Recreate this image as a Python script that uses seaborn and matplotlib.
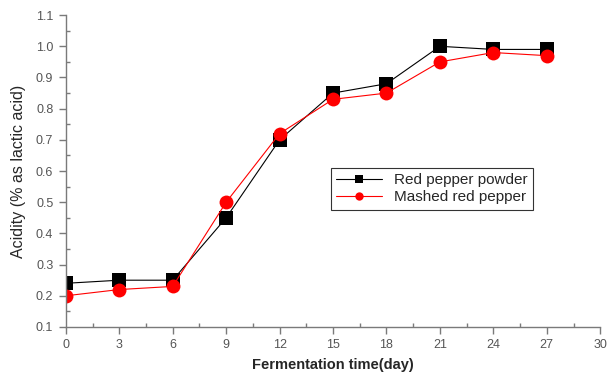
import pandas as pd
import seaborn as sns
import matplotlib.pyplot as plt
from matplotlib.ticker import MultipleLocator, FormatStrFormatter

# Data
days = [0, 3, 6, 9, 12, 15, 18, 21, 24, 27]
powder = [0.24, 0.25, 0.25, 0.45, 0.70, 0.85, 0.88, 1.00, 0.99, 0.99]
mashed = [0.20, 0.22, 0.23, 0.50, 0.72, 0.83, 0.85, 0.95, 0.98, 0.97]
series_names = ['Red pepper powder', 'Mashed red pepper']

df = pd.DataFrame({
    'day': days * 2,
    'acidity': powder + mashed,
    'sample': [series_names[0]] * len(days) + [series_names[1]] * len(days),
})

sns.set_style('white')
plt.rcParams['font.family'] = ['Liberation Sans', 'DejaVu Sans']

fig = plt.figure(figsize=(6.15, 3.78), dpi=100)
ax = fig.add_axes([0.107, 0.135, 0.869, 0.825])

sns.lineplot(data=df, x='day', y='acidity', hue='sample', style='sample',
             palette={series_names[0]: 'black', series_names[1]: '#ff0000'},
             markers={series_names[0]: 's', series_names[1]: 'o'},
             dashes=False, markersize=10, markeredgewidth=0, linewidth=0.8,
             ax=ax)

ax.set_xlim(0, 30)
ax.set_ylim(0.1, 1.1)
ax.xaxis.set_major_locator(MultipleLocator(3))
ax.xaxis.set_minor_locator(MultipleLocator(1.5))
ax.yaxis.set_major_locator(MultipleLocator(0.1))
ax.yaxis.set_minor_locator(MultipleLocator(0.05))
ax.xaxis.set_major_formatter(FormatStrFormatter('%d'))
ax.yaxis.set_major_formatter(FormatStrFormatter('%.1f'))

gray = '#7a7a7a'
for side in ['top', 'right']:
    ax.spines[side].set_visible(False)
for side in ['left', 'bottom']:
    ax.spines[side].set_color(gray)
    ax.spines[side].set_linewidth(1.0)

ax.tick_params(axis='both', which='major', direction='out', length=5,
               width=1, color=gray, labelcolor='#555555', labelsize=9, pad=4)
ax.tick_params(axis='both', which='minor', direction='in', length=3,
               width=1, color=gray)
ax.tick_params(axis='both', which='both', bottom=True, left=True)

ax.set_xlabel('Fermentation time(day)', fontsize=10.5, fontweight='bold', labelpad=5)
ax.set_ylabel('Acidity (% as lactic acid)', fontsize=11.5, labelpad=7)

leg = ax.legend(loc='upper left', bbox_to_anchor=(0.481, 0.535), fontsize=11,
                frameon=True, fancybox=False, borderpad=0.35, handlelength=3,
                markerscale=0.6, labelspacing=0.2)
leg.get_frame().set_edgecolor('black')
leg.get_frame().set_linewidth(0.8)

fig.savefig('out.png', dpi=100)
